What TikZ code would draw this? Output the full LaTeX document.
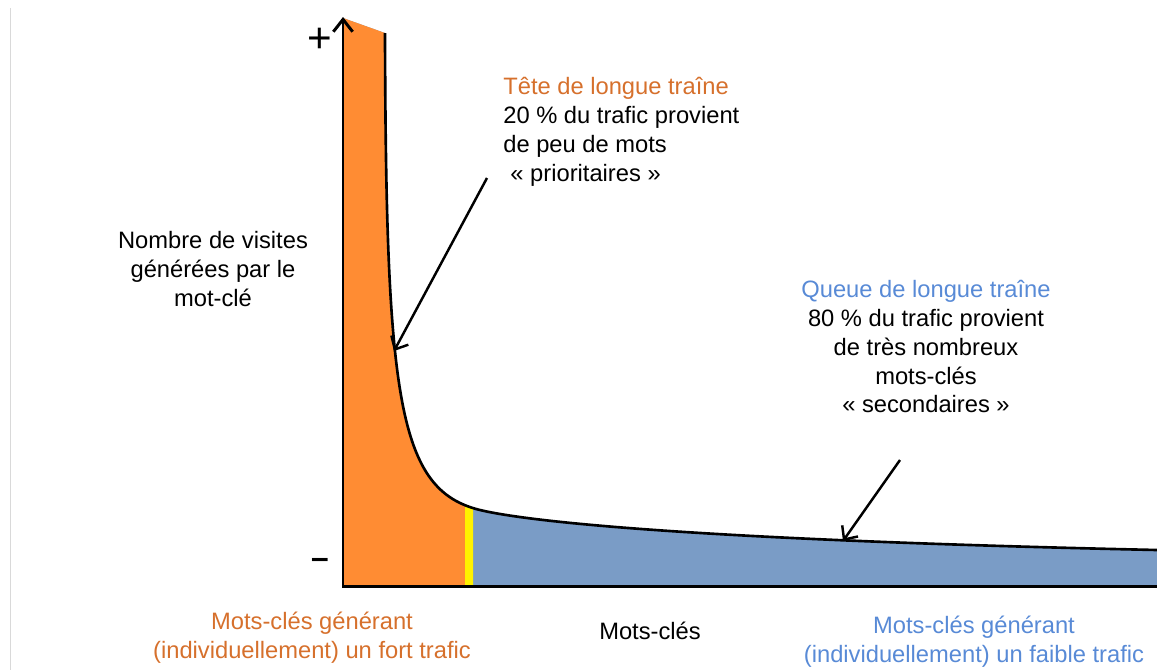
\documentclass[tikz,border=0pt]{standalone}
\usepackage{fontspec}
\setmainfont{Liberation Sans}
\usetikzlibrary{arrows.meta}

\definecolor{headorange}{RGB}{255,140,51}
\definecolor{tailblue}{RGB}{122,156,198}
\definecolor{headtext}{RGB}{214,112,44}
\definecolor{tailtext}{RGB}{88,138,214}

\tikzset{axis/.style={line width=1.7pt,black,line join=miter},
         traine/.style={line width=1.5pt,black},
         pointer/.style={line width=1.4pt,-{Straight Barb[length=6pt,width=11pt]}},
         legend/.style={inner sep=0pt,font=\fontsize{13.5}{16.4}\selectfont}}

\newcommand\longtail{-- (385,33) .. controls (386,400) and (398,490) .. (480,510) .. controls (530,522) and (700,540) .. (1157,550)}

\begin{document}
\begin{tikzpicture}[x=0.02cm,y=-0.02cm]
        \useasboundingbox (0,0) rectangle (1157,670);
        \draw[gray!30] (10,8) -- (10,670);
        % zones sous la courbe
        \fill[tailblue] (343,586) -- (343,18) \longtail -- (1157,586) -- cycle;
        \begin{scope}
            \clip (330,0) rectangle (465,590);
            \fill[headorange] (343,586) -- (343,18) \longtail -- (1157,586) -- cycle;
        \end{scope}
        \begin{scope}
            \clip (465,0) rectangle (473,590);
            \fill[yellow] (343,586) -- (343,18) \longtail -- (1157,586) -- cycle;
        \end{scope}
        \draw[traine] (385,33) \longtail;
        % axes
        \coordinate (origin) at (343,586);
        \coordinate (ytop) at (343,17);
        \coordinate (xend) at (1157,586);
        \draw[axis,-{Straight Barb[length=7pt,width=11pt]}] (xend) -- (origin) -- (ytop);
        \node[font=\fontsize{24}{24}\selectfont] (plus) at (320,40) {+};
        \node[font=\fontsize{18}{18}\selectfont\bfseries] (minus) at (320,563) {–};
        % textes
        \node[legend,anchor=north west,align=left] (tete) at (503,77)
            {\textcolor{headtext}{Tête de longue traîne}\\20 \% du trafic provient\\de peu de mots\\\hspace{0.3em}« prioritaires »};
        \node[legend,anchor=north,align=center] (visites) at (213,231)
            {Nombre de visites\\générées par le\\mot-clé};
        \node[legend,anchor=north,align=center] (queue) at (926,280)
            {\textcolor{tailtext}{Queue de longue traîne}\\80 \% du trafic provient\\de très nombreux\\mots-clés\\« secondaires »};
        \node[legend,anchor=north,align=center,text=headtext] (fort) at (312,612)
            {Mots-clés générant\\(individuellement) un fort trafic};
        \node[legend,anchor=north] (motscles) at (650,622) {Mots-clés};
        \node[legend,anchor=north,align=center,text=tailtext] (faible) at (974,616)
            {Mots-clés générant\\(individuellement) un faible trafic};
        % fleches
        \coordinate (headfrom) at (487,178);
        \coordinate (headto) at (394,351);
        \coordinate (tailfrom) at (900,460);
        \coordinate (tailto) at (843,541);
        \draw[pointer] (headfrom) -- (headto);
        \draw[pointer] (tailfrom) -- (tailto);
    \end{tikzpicture}
\end{document}
